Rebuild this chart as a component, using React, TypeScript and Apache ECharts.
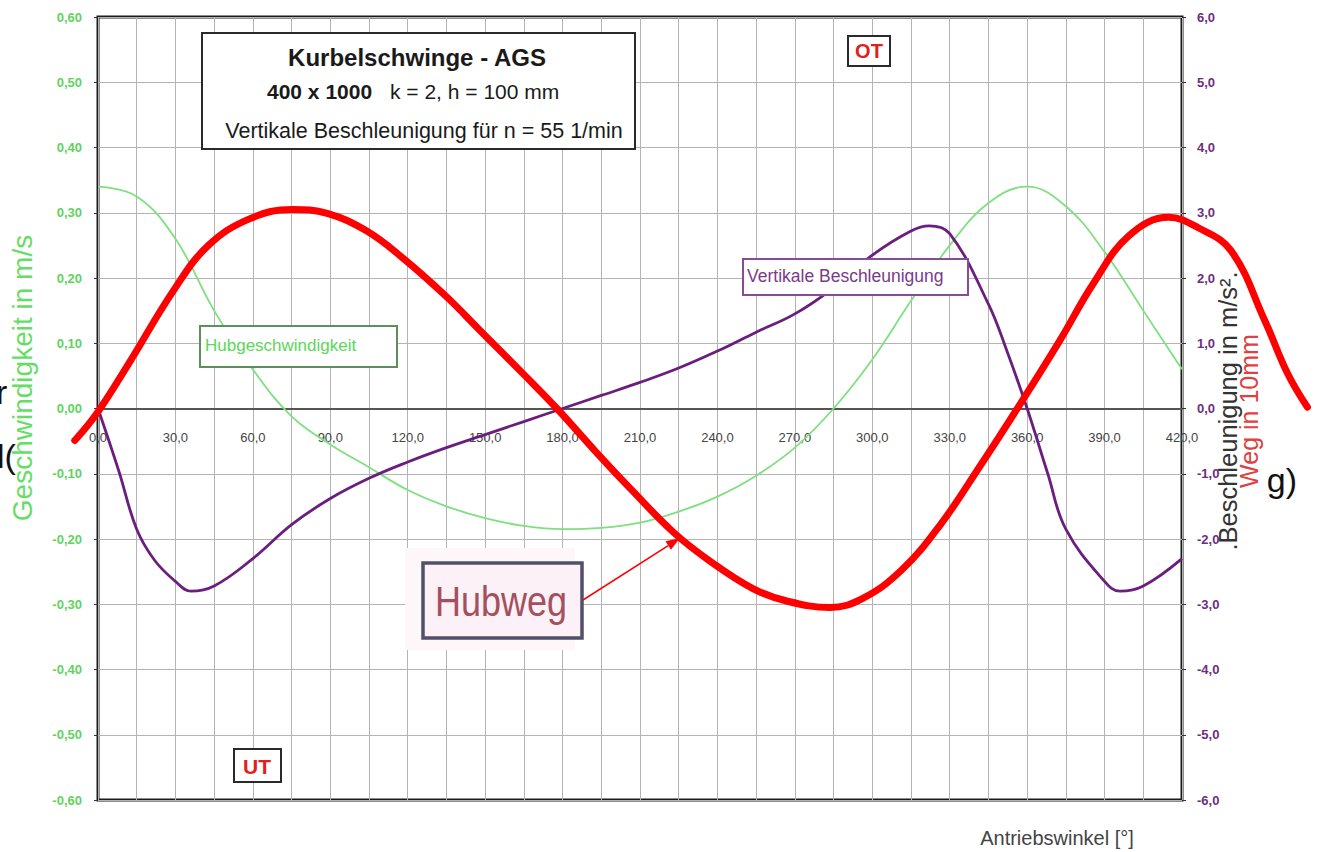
import React, { useEffect, useRef } from "react";
import * as echarts from "echarts";

// Hubgeschwindigkeit (m/s), left axis
const VEL_ANGLES = [0, 15, 30, 45, 60, 75, 90, 105, 120, 135, 150, 165, 180, 195, 210, 225, 240, 255, 270, 285, 300, 315, 330, 345, 360, 375, 390, 405, 420];
const VELOCITY = [0.34, 0.325, 0.26, 0.15, 0.06, -0.012, -0.055, -0.09, -0.125, -0.15, -0.168, -0.18, -0.185, -0.183, -0.175, -0.158, -0.135, -0.103, -0.06, 0.0, 0.075, 0.165, 0.25, 0.315, 0.34, 0.31, 0.24, 0.15, 0.06];

// Vertikale Beschleunigung (m/s²), right axis
const ACC_ANGLES = [0, 8, 15, 22, 30, 36, 45, 60, 75, 90, 105, 120, 135, 150, 165, 180, 195, 210, 225, 240, 255, 270, 285, 300, 315, 322, 330, 345, 352, 360, 368, 375, 390, 396, 405, 420];
const ACCEL = [0, -0.95, -1.85, -2.33, -2.65, -2.8, -2.72, -2.3, -1.78, -1.38, -1.07, -0.82, -0.6, -0.4, -0.2, 0, 0.2, 0.4, 0.62, 0.88, 1.17, 1.45, 1.85, 2.35, 2.72, 2.8, 2.68, 1.6, 0.9, 0, -1.0, -1.85, -2.65, -2.8, -2.72, -2.3];

// Hubweg (in 10 mm), right-axis scale, drawn beyond the plot
const PATH_ANGLES = [-8.9, 0, 12.4, 29.8, 43.4, 59.7, 76.3, 89.9, 105.4, 119.7, 136.4, 149.6, 167.4, 179.8, 194.5, 209.6, 225.5, 239.4, 256.5, 269.7, 286.7, 299.5, 314.6, 329.7, 345.6, 359.5, 376.6, 389.8, 403.7, 419.2, 430.8, 443.6, 456.8, 465.7, 473.5];
const PATH = [-0.49, -0.06, 0.7, 1.81, 2.5, 2.91, 3.05, 2.99, 2.72, 2.3, 1.72, 1.2, 0.5, 0, -0.64, -1.27, -1.9, -2.33, -2.76, -2.95, -3.05, -2.91, -2.48, -1.79, -0.87, -0.03, 1.04, 1.92, 2.65, 2.93, 2.77, 2.42, 1.35, 0.54, 0.02];

const X_MIN = 0;
const X_MAX = 420;
const X_STEP = 15;
const X_LABEL_STEP = 30;
const X_WIDE_MIN = -20;
const X_WIDE_MAX = 480;
const LEFT_MIN = -0.6;
const LEFT_MAX = 0.6;
const LEFT_STEP = 0.1;
const RIGHT_MIN = -6;
const RIGHT_MAX = 6;
const RIGHT_STEP = 1;

const FONT = "'Liberation Sans', Arial, Helvetica, sans-serif";

const zip = (xs: number[], ys: number[]) => xs.map((x, i) => [x, ys[i]]);

export default function App() {
  const ref = useRef<HTMLDivElement>(null);

  useEffect(() => {
    if (!ref.current) return;
    const chart = echarts.init(ref.current, undefined, { renderer: "svg" });

    const gLeft = 98;
    const gTop = 17;
    const gWidth = 1084;
    const gHeight = 783;
    const pxPerDeg = gWidth / (X_MAX - X_MIN);

    const tip = [680, 538];
    const start = [583, 600];
    const dx = tip[0] - start[0];
    const dy = tip[1] - start[1];
    const len = Math.sqrt(dx * dx + dy * dy);
    const ux = dx / len;
    const uy = dy / len;
    const base = [tip[0] - 14 * ux, tip[1] - 14 * uy];
    const px = -uy;
    const py = ux;

    chart.setOption({
      animation: false,
      backgroundColor: "#ffffff",
      grid: [
        {
          left: gLeft,
          top: gTop,
          width: gWidth,
          height: gHeight,
          show: true,
          borderColor: "#1a1a1a",
          borderWidth: 3,
          backgroundColor: "transparent",
          containLabel: false,
        },
        {
          left: gLeft + (X_WIDE_MIN - X_MIN) * pxPerDeg,
          top: gTop,
          width: (X_WIDE_MAX - X_WIDE_MIN) * pxPerDeg,
          height: gHeight,
          show: false,
          containLabel: false,
        },
      ],
      xAxis: [
        {
          type: "value",
          gridIndex: 0,
          min: X_MIN,
          max: X_MAX,
          interval: X_STEP,
          position: "bottom",
          offset: -(gHeight / 2),
          axisLine: { onZero: false, lineStyle: { color: "#555555", width: 2 } },
          axisTick: { show: false },
          axisLabel: {
            color: "#444444",
            fontSize: 13,
            fontFamily: FONT,
            margin: 22,
            showMinLabel: true,
            showMaxLabel: true,
            formatter: (v: number) => (Math.round(v) % X_LABEL_STEP === 0 ? v.toFixed(1).replace(".", ",") : ""),
          },
          splitLine: { show: true, lineStyle: { color: "#b4b4b4", width: 1 } },
        },
        {
          type: "value",
          gridIndex: 1,
          min: X_WIDE_MIN,
          max: X_WIDE_MAX,
          show: false,
        },
      ],
      yAxis: [
        {
          type: "value",
          gridIndex: 0,
          min: LEFT_MIN,
          max: LEFT_MAX,
          interval: LEFT_STEP,
          position: "left",
          axisLine: { show: false },
          axisTick: { show: true, length: 4, lineStyle: { color: "#333333" } },
          axisLabel: {
            color: "#5fd35f",
            fontSize: 13,
            fontWeight: "bold",
            fontFamily: FONT,
            margin: 16,
            formatter: (v: number) => v.toFixed(2).replace(".", ","),
          },
          splitLine: { show: true, lineStyle: { color: "#b4b4b4", width: 1 } },
        },
        {
          type: "value",
          gridIndex: 0,
          min: RIGHT_MIN,
          max: RIGHT_MAX,
          interval: RIGHT_STEP,
          position: "right",
          axisLine: { show: false },
          axisTick: { show: true, length: 4, lineStyle: { color: "#333333" } },
          axisLabel: {
            color: "#6d2d80",
            fontSize: 13,
            fontWeight: "bold",
            fontFamily: FONT,
            margin: 15,
            formatter: (v: number) => v.toFixed(1).replace(".", ","),
          },
          splitLine: { show: false },
        },
        {
          type: "value",
          gridIndex: 1,
          min: RIGHT_MIN,
          max: RIGHT_MAX,
          show: false,
        },
      ],
      series: [
        {
          name: "Hubgeschwindigkeit",
          type: "line",
          xAxisIndex: 0,
          yAxisIndex: 0,
          data: zip(VEL_ANGLES, VELOCITY),
          smooth: 0.4,
          symbol: "none",
          lineStyle: { color: "#7ee07e", width: 1.8 },
          z: 3,
        },
        {
          name: "Vertikale Beschleunigung",
          type: "line",
          xAxisIndex: 0,
          yAxisIndex: 1,
          data: zip(ACC_ANGLES, ACCEL),
          smooth: 0.4,
          symbol: "none",
          lineStyle: { color: "#6a1f7e", width: 2.8 },
          z: 4,
        },
        {
          name: "Hubweg",
          type: "line",
          xAxisIndex: 1,
          yAxisIndex: 2,
          data: zip(PATH_ANGLES, PATH),
          smooth: 0.4,
          symbol: "none",
          clip: false,
          lineStyle: { color: "#ff0000", width: 7, cap: "round" },
          z: 5,
        },
      ],
      graphic: [
        // stray slide fragments
        { type: "text", x: -4, y: 392, z: 1, style: { text: "r", font: `34px ${FONT}`, fill: "#111", align: "left", verticalAlign: "middle" } },
        { type: "text", x: -3, y: 456, z: 1, style: { text: "l(", font: `34px ${FONT}`, fill: "#111", align: "left", verticalAlign: "middle" } },
        { type: "text", x: 1297, y: 480, z: 1, style: { text: "g)", font: `34px ${FONT}`, fill: "#111", align: "right", verticalAlign: "middle" } },
        // axis titles
        { type: "text", x: 22, y: 378, rotation: Math.PI / 2, z: 10, style: { text: "Geschwindigkeit in m/s", font: `28px ${FONT}`, fill: "#66dd66", align: "center", verticalAlign: "middle" } },
        { type: "text", x: 1228, y: 411, rotation: Math.PI / 2, z: 10, style: { text: ".Beschleunigung in m/s².", font: `25.5px ${FONT}`, fill: "#333333", align: "center", verticalAlign: "middle" } },
        { type: "text", x: 1249, y: 411, rotation: Math.PI / 2, z: 10, style: { text: "Weg in 10mm", font: `25px ${FONT}`, fill: "#e04040", align: "center", verticalAlign: "middle" } },
        { type: "text", x: 1057, y: 838, z: 10, style: { text: "Antriebswinkel [°]", font: `20px ${FONT}`, fill: "#444444", align: "center", verticalAlign: "middle" } },
        // title box
        { type: "rect", shape: { x: 202, y: 33, width: 433, height: 116 }, z: 20, style: { fill: "#ffffff", stroke: "#2a2a2a", lineWidth: 2 } },
        { type: "text", x: 417, y: 57, z: 21, style: { text: "Kurbelschwinge - AGS", font: `bold 24px ${FONT}`, fill: "#1a1a1a", align: "center", verticalAlign: "middle" } },
        { type: "text", x: 267, y: 91, z: 21, style: { text: "400 x 1000", font: `bold 21px ${FONT}`, fill: "#1a1a1a", align: "left", verticalAlign: "middle" } },
        { type: "text", x: 390, y: 91, z: 21, style: { text: "k = 2, h = 100 mm", font: `21px ${FONT}`, fill: "#1a1a1a", align: "left", verticalAlign: "middle" } },
        { type: "text", x: 424, y: 131, z: 21, style: { text: "Vertikale Beschleunigung für n = 55 1/min", font: `21.5px ${FONT}`, fill: "#1a1a1a", align: "center", verticalAlign: "middle" } },
        // OT / UT
        { type: "rect", shape: { x: 848, y: 36, width: 42, height: 30 }, z: 20, style: { fill: "#ffffff", stroke: "#2a2a2a", lineWidth: 2 } },
        { type: "text", x: 869, y: 51, z: 21, style: { text: "OT", font: `bold 20px ${FONT}`, fill: "#e02020", align: "center", verticalAlign: "middle" } },
        { type: "rect", shape: { x: 234, y: 749, width: 47, height: 33 }, z: 20, style: { fill: "#ffffff", stroke: "#2a2a2a", lineWidth: 2 } },
        { type: "text", x: 257, y: 766, z: 21, style: { text: "UT", font: `bold 21px ${FONT}`, fill: "#e02020", align: "center", verticalAlign: "middle" } },
        // series labels
        { type: "rect", shape: { x: 200, y: 326, width: 197, height: 41 }, z: 20, style: { fill: "#ffffff", stroke: "#5c8f5c", lineWidth: 2 } },
        { type: "text", x: 205, y: 345, z: 21, style: { text: "Hubgeschwindigkeit", font: `17px ${FONT}`, fill: "#5cd65c", align: "left", verticalAlign: "middle" } },
        { type: "rect", shape: { x: 743, y: 259, width: 225, height: 36 }, z: 20, style: { fill: "#ffffff", stroke: "#8a4a9a", lineWidth: 2 } },
        { type: "text", x: 747, y: 276, z: 21, style: { text: "Vertikale Beschleunigung", font: `17.5px ${FONT}`, fill: "#7a3a8a", align: "left", verticalAlign: "middle" } },
        // Hubweg label + arrow
        { type: "rect", shape: { x: 405, y: 548, width: 170, height: 102 }, z: 19, style: { fill: "#fdf7fa", stroke: "none" } },
        { type: "rect", shape: { x: 423, y: 563, width: 159, height: 75 }, z: 20, style: { fill: "#fcf1f6", stroke: "#50506a", lineWidth: 3.5 } },
        { type: "text", x: 501, y: 601, scaleY: 1.2, z: 21, style: { text: "Hubweg", font: `36px ${FONT}`, fill: "#a4505e", align: "center", verticalAlign: "middle" } },
        { type: "line", z: 21, shape: { x1: start[0], y1: start[1], x2: base[0], y2: base[1] }, style: { stroke: "#ff0000", lineWidth: 1.5 } },
        {
          type: "polygon",
          z: 21,
          shape: {
            points: [
              [tip[0], tip[1]],
              [base[0] + 5 * px, base[1] + 5 * py],
              [base[0] - 5 * px, base[1] - 5 * py],
            ],
          },
          style: { fill: "#ff0000" },
        },
      ],
    });

    return () => chart.dispose();
  }, []);

  return (
    <div
      ref={ref}
      style={{ position: "absolute", left: 0, top: 0, width: 1324, height: 852, background: "#ffffff" }}
    />
  );
}
